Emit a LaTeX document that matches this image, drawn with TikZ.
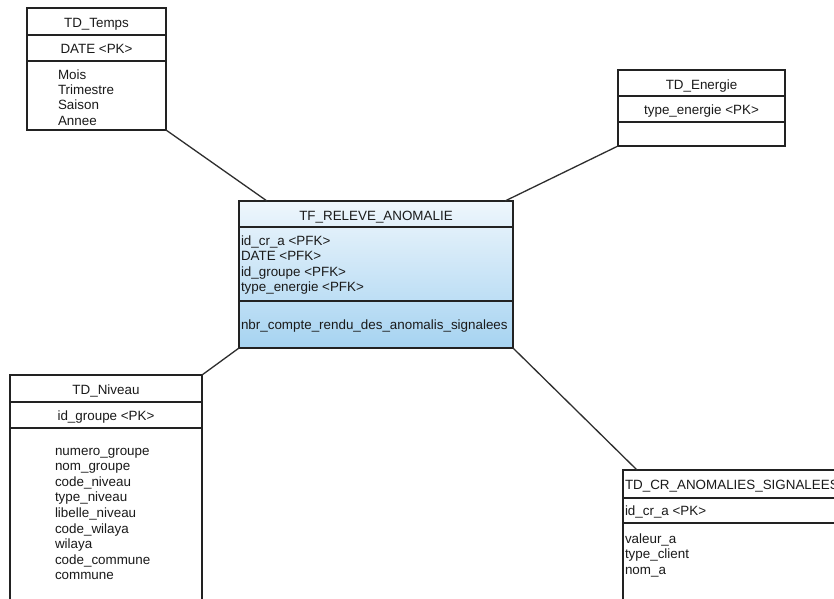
\documentclass[tikz,border=0pt]{standalone}
\usepackage{fontspec}
\setmainfont{Liberation Sans}
\usetikzlibrary{calc}
\definecolor{linecol}{HTML}{222222}
\definecolor{linkcol}{HTML}{2E2E2E}
\definecolor{txtcol}{HTML}{1A1A1A}
\definecolor{facttop}{HTML}{EEF6FC}
\definecolor{factbot}{HTML}{A6D3F1}
\tikzset{
  table/.style={draw=linecol, line width=1.1pt, inner sep=0pt, outer sep=0pt, rectangle},
  rule/.style={draw=linecol, line width=1.1pt},
  link/.style={draw=linkcol, line width=1.3pt},
  lbl/.style={inner sep=0pt, outer sep=0pt, text=txtcol, font=\fontsize{13.4}{15.6}\selectfont},
}
\begin{document}
\begin{tikzpicture}[x=1pt, y=-1pt]
  \fill[white] (0,0) rectangle (834,598);
  \useasboundingbox (0,0) rectangle (834,598);
  \clip (0,0) rectangle (834,598);

  % tables
  \node[table, minimum width=139, minimum height=122] (temps) at (96.5,69) {};
  \node[table, minimum width=167, minimum height=76] (energie) at (701.5,108) {};
  \node[table, minimum width=274, minimum height=147, top color=facttop, bottom color=factbot] (fact) at (376,274.5) {};
  \node[table, minimum width=192, minimum height=245] (niveau) at (106,497.5) {};
  \node[table, minimum width=277, minimum height=150] (cr) at (761.5,545) {};

  % section rules
  \draw[rule] (temps.west |- 0,35) -- (temps.east |- 0,35);
  \draw[rule] (temps.west |- 0,61) -- (temps.east |- 0,61);
  \draw[rule] (energie.west |- 0,96) -- (energie.east |- 0,96);
  \draw[rule] (energie.west |- 0,122) -- (energie.east |- 0,122);
  \draw[rule] (fact.west |- 0,227) -- (fact.east |- 0,227);
  \draw[rule] (fact.west |- 0,301) -- (fact.east |- 0,301);
  \draw[rule] (niveau.west |- 0,402) -- (niveau.east |- 0,402);
  \draw[rule] (niveau.west |- 0,428) -- (niveau.east |- 0,428);
  \draw[rule] (cr.west |- 0,498) -- (cr.east |- 0,498);
  \draw[rule] (cr.west |- 0,523) -- (cr.east |- 0,523);

  % relations
  \draw[link] (temps.south east) -- ($(fact.north west)+(28,0)$);
  \draw[link] (energie.south west) -- ($(fact.north east)+(-8,0)$);
  \draw[link] (fact.south west) -- (niveau.north east);
  \draw[link] (fact.south east) -- ($(cr.north west)+(14,0)$);

  % TD_Temps
  \node[lbl, anchor=base] (temps-t) at (96.5,27) {TD\_Temps};
  \node[lbl, anchor=base] (temps-k) at (96.5,53.5) {DATE <PK>};
  \foreach \t [count=\i] in {Mois,Trimestre,Saison,Annee}
    \node[lbl, anchor=base west] (temps-a\i) at (58,{79+15.4*(\i-1)}) {\t};

  % TD_Energie
  \node[lbl, anchor=base] (energie-t) at (701.5,89) {TD\_Energie};
  \node[lbl, anchor=base] (energie-k) at (701.5,114) {type\_energie <PK>};

  % TF_RELEVE_ANOMALIE
  \node[lbl, anchor=base] (fact-t) at (376,220) {TF\_RELEVE\_ANOMALIE};
  \foreach \t [count=\i] in {id\_cr\_a <PFK>,DATE <PFK>,id\_groupe <PFK>,type\_energie <PFK>}
    \node[lbl, anchor=base west] (fact-k\i) at (241,{245+15.5*(\i-1)}) {\t};
  \node[lbl, anchor=base west] (fact-m) at (241,329) {nbr\_compte\_rendu\_des\_anomalis\_signalees};

  % TD_Niveau
  \node[lbl, anchor=base] (niveau-t) at (106,394) {TD\_Niveau};
  \node[lbl, anchor=base] (niveau-k) at (106,420) {id\_groupe <PK>};
  \foreach \t [count=\i] in {numero\_groupe,nom\_groupe,code\_niveau,type\_niveau,libelle\_niveau,code\_wilaya,wilaya,code\_commune,commune}
    \node[lbl, anchor=base west] (niveau-a\i) at (55,{455+15.6*(\i-1)}) {\t};

  % TD_CR_ANOMALIES_SIGNALEES
  \node[lbl, anchor=base west] (cr-t) at (625,489) {TD\_CR\_ANOMALIES\_SIGNALEES};
  \node[lbl, anchor=base west] (cr-k) at (625,515.5) {id\_cr\_a <PK>};
  \foreach \t [count=\i] in {valeur\_a,type\_client,nom\_a}
    \node[lbl, anchor=base west] (cr-a\i) at (625,{543+15.5*(\i-1)}) {\t};
\end{tikzpicture}
\end{document}
